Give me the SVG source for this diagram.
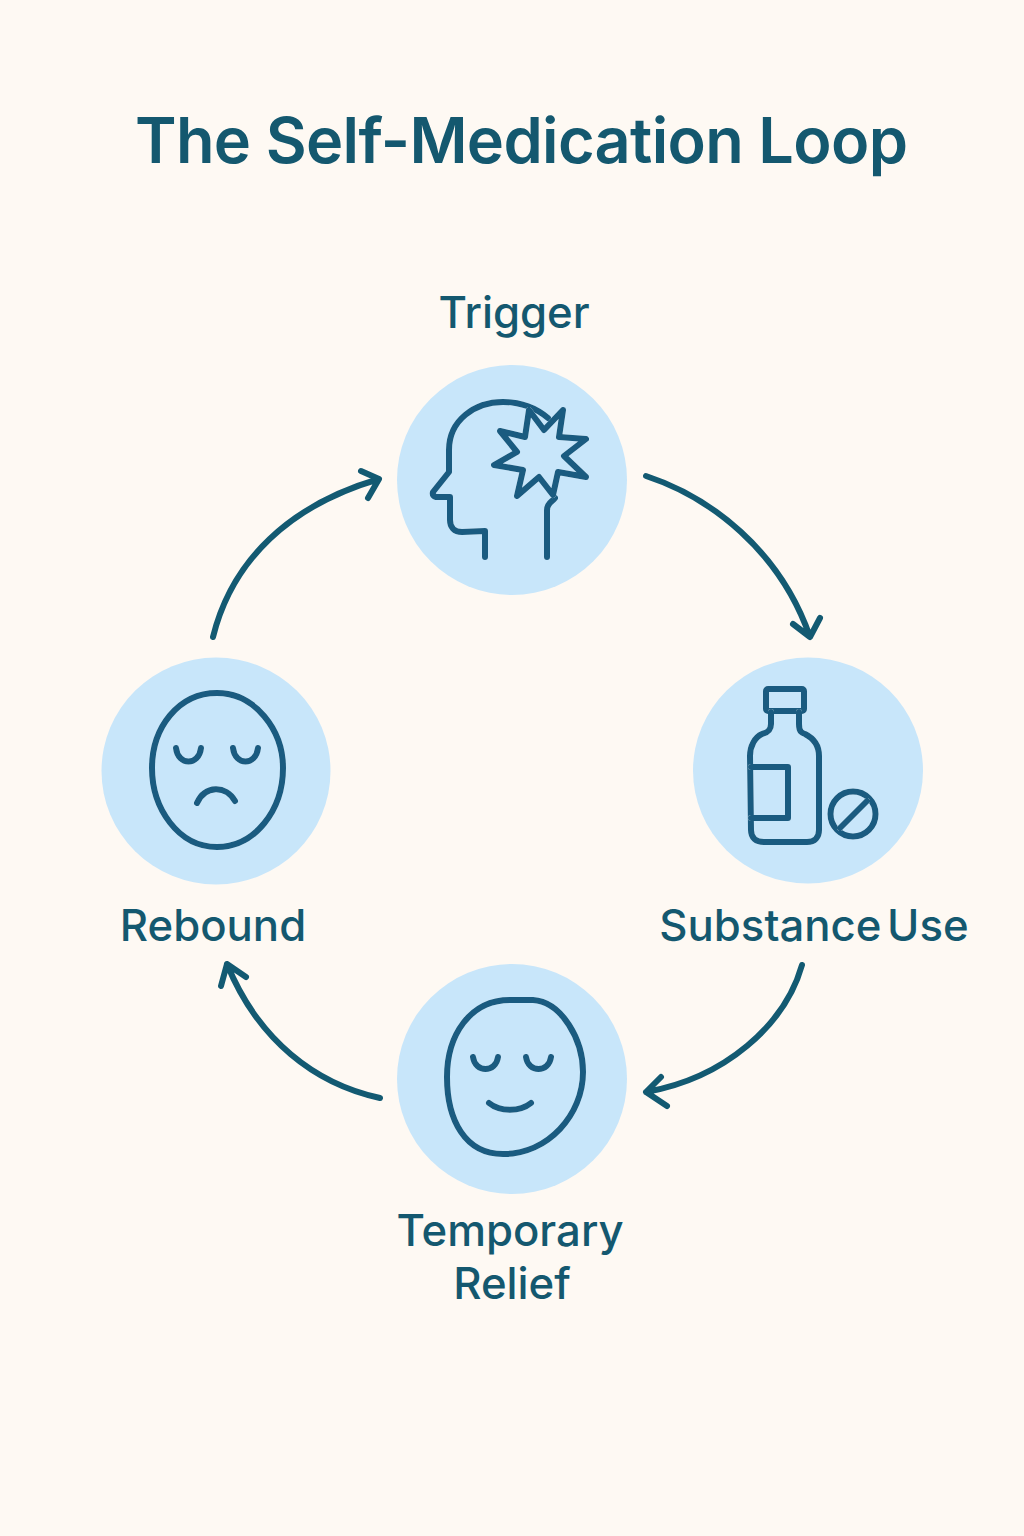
<svg xmlns="http://www.w3.org/2000/svg" width="1024" height="1536" viewBox="0 0 1024 1536">
<defs><style>
.c{fill:#c8e6fa}
.i{fill:none;stroke:#1a5b80;stroke-width:6;stroke-linecap:round;stroke-linejoin:round;filter:drop-shadow(0 0 .6px #fff)}
.a{fill:none;stroke:#135a72;stroke-width:6;stroke-linecap:round;stroke-linejoin:round}
text{font-family:Inter,"Liberation Sans",sans-serif;fill:#14586f;text-anchor:middle;font-weight:500;font-size:43.7px}
</style></defs>
<rect width="1024" height="1536" fill="#fef9f3"/>
<text x="521.5" y="163" textLength="773" style="font-size:63px;font-weight:600">The Self-Medication Loop</text>
<g id="connectors">
<path class="a" d="M646 476C710 497 780 550 810 637M793 624L810 637L820 618"/>
<path class="a" d="M802 965C785 1025 725 1078 646 1092M661 1077L646 1092L667 1106"/>
<path class="a" d="M380 1098C315 1084 258 1040 227 964M221 986L227 964L246 977"/>
<path class="a" d="M213 637C232 560 290 505 379 479M361 471L379 479L368 498"/>
</g>
<g id="trigger"><circle class="c" cx="512" cy="480" r="115"/><text x="514" y="328">Trigger</text>
<path class="i" d="M485 557V531L462 532C454 532 450 527 450 520V497H436Q432 496 433 492L449 472V450C449 420 475 402 503 402C522 402 536 408 548 418"/>
<path class="i" d="M547 557V510C547 503 552 502 555 498"/>
<path class="i" d="M529 410L525 437L500 431L517 452L494 465L523 470L517 496L539 477L553 495L558 472L586 477L564 456L586 439L559 437L563 410L544 430Z"/></g>
<g id="substance"><ellipse class="c" cx="808" cy="770.5" rx="115" ry="113"/><text x="814" y="941" style="word-spacing:-6px">Substance Use</text>
<rect class="i" x="766" y="689" width="38" height="22" rx="2"/>
<path class="i" d="M771 712V724C771 732 765 733 762 734C755 737 750 746 750 756L751 830C751 838 756 842 764 842H807C815 842 819 837 819 830V756C819 745 813 738 805 734C802 733 799 732 799 724V712"/>
<path class="i" d="M751 767H788V818H751"/>
<circle class="i" cx="853" cy="814" r="22.500"/><path class="i" d="M840 828L867 801"/></g>
<g id="relief"><circle class="c" cx="512" cy="1079" r="115"/><text x="510" y="1246">Temporary</text><text x="512" y="1299">Relief</text>
<path class="i" d="M510 1000L533 1000C562 1002 583 1040 583 1072C583 1115 548 1154 503 1154C465 1154 447 1120 447 1077C447 1035 470 1000 510 1000Z"/>
<path class="i" d="M473 1057C475 1073 496 1073 498 1057M526 1057C528 1073 549 1073 551 1057M489 1103C500 1112 520 1112 531 1103"/></g>
<g id="rebound"><ellipse class="c" cx="216" cy="771" rx="114.500" ry="113.500"/><text x="213" y="941">Rebound</text>
<path class="i" d="M217 693C255 693 283 730 283 768C283 810 255 847 217 847C178 847 152 808 152 768C152 728 178 693 217 693Z"/>
<path class="i" d="M176 748C178 766 199 766 201 748M233 748C235 766 256 766 258 748M197 803C205 785 226 785 235 801"/></g>
</svg>
